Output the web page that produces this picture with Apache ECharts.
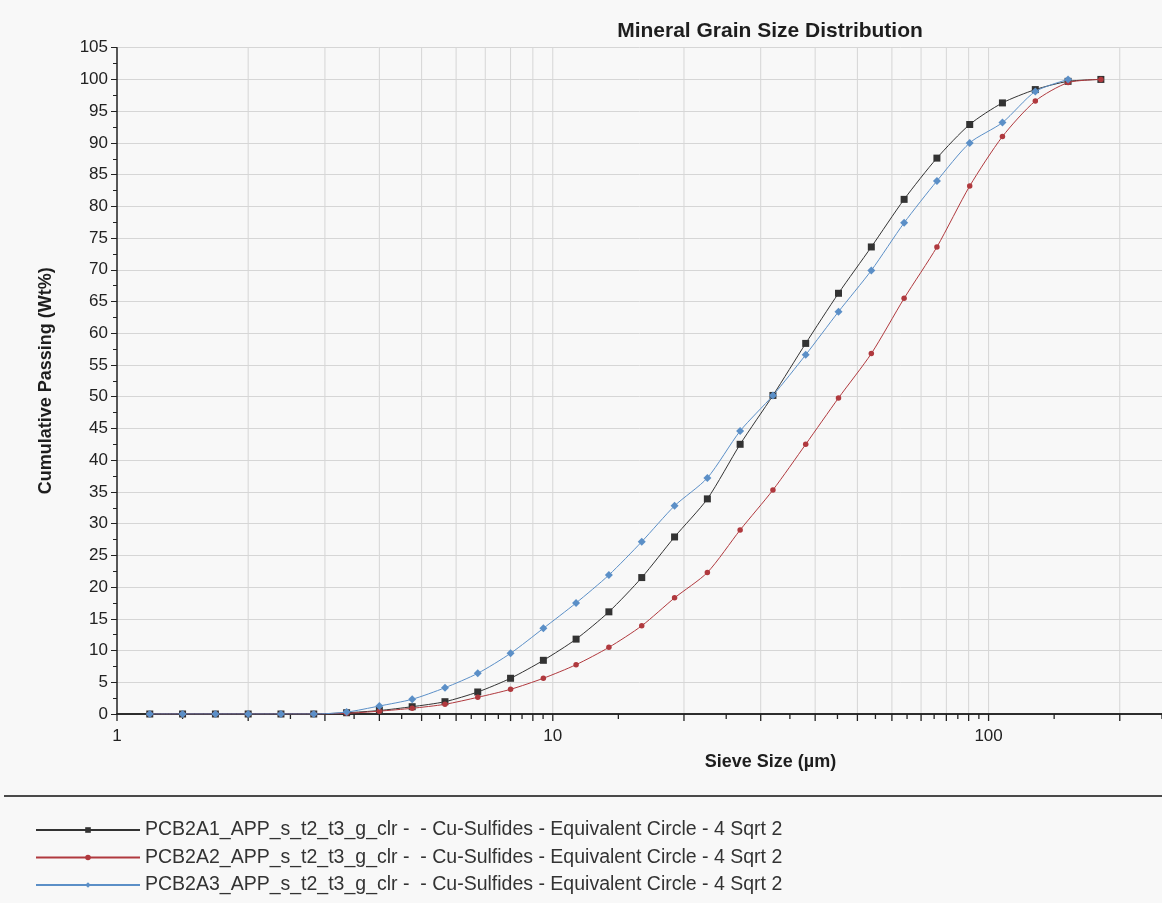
<!DOCTYPE html>
<html>
<head>
<meta charset="utf-8">
<script src="https://cdn.jsdelivr.net/npm/echarts@6/dist/echarts.min.js"></script>
<style>
html,body{margin:0;padding:0;background:#f8f8f8;}
#chart{width:1162px;height:903px;}
</style>
</head>
<body>
<div id="chart"></div>
<script>
// Sieve sizes (µm), 4th-root-of-2 series
const sieveSizes = [1.189,1.414,1.682,2,2.378,2.828,3.364,4,4.757,5.657,6.727,8,9.514,11.31,13.45,16,19.03,22.63,26.91,32,38.05,45.25,53.82,64,76.11,90.51,107.6,128,152.2,181];
// Cumulative passing (Wt%)
const pcb2a1 = [0,0,0,0,0,0,0.2,0.55,1.15,1.94,3.47,5.63,8.46,11.8,16.1,21.5,27.9,33.9,42.5,50.2,58.4,66.3,73.6,81.1,87.6,92.9,96.3,98.4,99.7,100];
const pcb2a2 = [0,0,0,0,0,0,0.1,0.45,0.9,1.53,2.63,3.89,5.63,7.77,10.5,13.9,18.3,22.3,29.0,35.3,42.5,49.8,56.8,65.5,73.6,83.2,91.0,96.6,99.5,100];
const pcb2a3 = [0,0,0,0,0,0,0.3,1.26,2.32,4.14,6.41,9.56,13.5,17.5,21.9,27.15,32.8,37.2,44.6,50.2,56.6,63.4,69.9,77.4,84.0,90.0,93.2,98.1,100];
const seriesNames = [
  'PCB2A1_APP_s_t2_t3_g_clr -  - Cu-Sulfides - Equivalent Circle - 4 Sqrt 2',
  'PCB2A2_APP_s_t2_t3_g_clr -  - Cu-Sulfides - Equivalent Circle - 4 Sqrt 2',
  'PCB2A3_APP_s_t2_t3_g_clr -  - Cu-Sulfides - Equivalent Circle - 4 Sqrt 2'
];
// axis helpers
const xGridValues = [2,3,4,5,6,7,8,9,10,20,30,40,50,60,70,80,90,100,200];
const xMajorTicks = [1,2,3,4,5,6,7,8,9,10,20,30,40,50,60,70,80,90,100,200];
const xMinorTicks = [1.414,2.5,3.5,4.5,5.5,6.5,7.5,8.5,9.5,14.14,25,35,45,55,65,75,85,95,141.4,250];
const xLabelValues = [1,10,100];

const FONT = 'Liberation Sans';
const pair = (xs, ys) => ys.map((y, i) => [xs[i], y]);

const chart = echarts.init(document.getElementById('chart'), null, {renderer:'canvas'});
chart.setOption({
  backgroundColor: '#f8f8f8',
  animation: false,
  title: {
    text: 'Mineral Grain Size Distribution',
    left: 770, top: 21, textAlign: 'center', padding: 0,
    textStyle: {fontFamily: FONT, fontWeight: 'bold', fontSize: 21, color: '#1e1e1e'}
  },
  legend: {
    data: seriesNames,
    orient: 'vertical', left: 35, top: 820, padding: 0,
    itemWidth: 104, itemHeight: 7, itemGap: 7.5,
    textStyle: {fontFamily: FONT, fontSize: 19.5, color: '#333', lineHeight: 20}
  },
  graphic: [{
    type: 'line', shape: {x1: 4, y1: 796, x2: 1162, y2: 796},
    style: {stroke: '#4a4a4a', lineWidth: 2}, silent: true
  }],
  grid: {left: 117, top: 47.7, right: -0.5, bottom: 189, containLabel: false},
  xAxis: [{
    type: 'log', logBase: 10, min: 1, max: 250,
    name: 'Sieve Size (µm)', nameLocation: 'middle', nameGap: 39,
    nameTextStyle: {fontFamily: FONT, fontWeight: 'bold', fontSize: 18, color: '#1e1e1e', padding: [0,0,0,262]},
    axisLine: {show: true, onZero: false, lineStyle: {color: '#222', width: 1.5}},
    axisTick: {show: false},
    splitLine: {show: false},
    axisLabel: {
      fontFamily: FONT, fontSize: 17, color: '#222', margin: 14,
      showMaxLabel: false,
      formatter: v => (xLabelValues.indexOf(Math.round(v)) >= 0 ? String(Math.round(v)) : '')
    }
  }, {
    type: 'log', logBase: 10, min: 1, max: 250, position: 'top',
    axisLine: {show: true, lineStyle: {color: '#222', width: 1.5}},
    axisTick: {show: false}, axisLabel: {show: false}, splitLine: {show: false}
  }],
  yAxis: {
    type: 'value', min: 0, max: 105, interval: 5,
    name: 'Cumulative Passing (Wt%)', nameLocation: 'middle', nameGap: 62, nameRotate: 90,
    nameTextStyle: {fontFamily: FONT, fontWeight: 'bold', fontSize: 18, color: '#1e1e1e'},
    axisLine: {show: true, lineStyle: {color: '#222', width: 1.5}},
    axisTick: {show: true, length: 6, lineStyle: {color: '#222'}},
    minorTick: {show: true, splitNumber: 2, length: 4, lineStyle: {color: '#222'}},
    splitLine: {show: true, lineStyle: {color: '#d6d6d6', width: 1}},
    axisLabel: {fontFamily: FONT, fontSize: 17, color: '#222', margin: 9}
  },
  series: [
    {
      type: 'custom', name: 'xgrid', silent: true, z: 0, xAxisIndex: 0,
      data: xGridValues.map(v => [v, 0]),
      encode: {x: 0, y: 1},
      renderItem: (params, api) => {
        const p0 = api.coord([api.value(0), 0]);
        const p1 = api.coord([api.value(0), 105]);
        return {type: 'line', shape: {x1: p0[0], y1: p0[1], x2: p1[0], y2: p1[1]},
                style: {stroke: '#d6d6d6', lineWidth: 1}};
      }
    },
    {
      type: 'custom', name: 'xticksMajor', silent: true, clip: false, z: 3, xAxisIndex: 0,
      data: xMajorTicks.map(v => [v, 0]),
      encode: {x: 0, y: 1},
      renderItem: (params, api) => {
        const p = api.coord([api.value(0), 0]);
        return {type: 'line', shape: {x1: p[0], y1: p[1], x2: p[0], y2: p[1] + 7},
                style: {stroke: '#222', lineWidth: 1.3}};
      }
    },
    {
      type: 'custom', name: 'xticksMinor', silent: true, clip: false, z: 3, xAxisIndex: 0,
      data: xMinorTicks.map(v => [v, 0]),
      encode: {x: 0, y: 1},
      renderItem: (params, api) => {
        const p = api.coord([api.value(0), 0]);
        return {type: 'line', shape: {x1: p[0], y1: p[1], x2: p[0], y2: p[1] + 5},
                style: {stroke: '#222', lineWidth: 1.3}};
      }
    },
    {
      type: 'line', name: seriesNames[0], data: pair(sieveSizes, pcb2a1),
      smooth: 0.25, symbol: 'rect', symbolSize: 7, showAllSymbol: true,
      lineStyle: {color: '#333333', width: 1}, itemStyle: {color: '#333333'}, z: 5
    },
    {
      type: 'line', name: seriesNames[1], data: pair(sieveSizes, pcb2a2),
      smooth: 0.25, symbol: 'circle', symbolSize: 5.5, showAllSymbol: true,
      lineStyle: {color: '#b0393e', width: 1}, itemStyle: {color: '#b0393e'}, z: 6
    },
    {
      type: 'line', name: seriesNames[2], data: pair(sieveSizes, pcb2a3),
      smooth: 0.25, symbol: 'diamond', symbolSize: 8, showAllSymbol: true,
      lineStyle: {color: '#5b8fc7', width: 1}, itemStyle: {color: '#5b8fc7'}, z: 7
    }
  ]
});
</script>
</body>
</html>
